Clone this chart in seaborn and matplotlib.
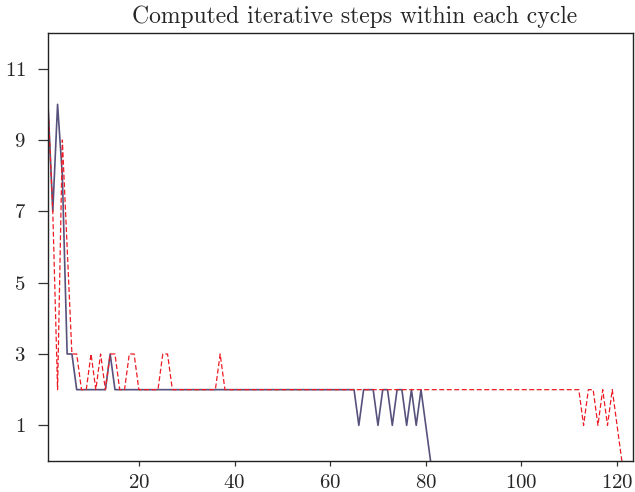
import matplotlib
matplotlib.use("Agg")
import matplotlib.pyplot as plt
import seaborn as sns
import pandas as pd

# Computed iterative steps per cycle (two runs)
steps_solid = [10, 7, 10, 8, 3, 3, 2, 2, 2, 2, 2, 2, 2, 3, 2] + [2] * 49 + \
    [2, 1, 2, 2, 2, 1, 2, 2, 1, 2, 2, 1, 2, 1, 2, 1, 0]
steps_dashed = [10, 7, 2, 9, 6, 3, 3, 2, 2, 3, 2, 3, 2, 3, 3, 2, 2, 3, 3, 2,
                2, 2, 2, 2, 3, 3, 2, 2, 2, 2, 2, 2, 2, 2, 2, 2, 3, 2] + [2] * 73 + \
    [2, 1, 2, 2, 1, 2, 1, 2, 1, 0]
cycles_solid = list(range(1, len(steps_solid) + 1))
cycles_dashed = list(range(1, len(steps_dashed) + 1))

title = "Computed iterative steps within each cycle"
xticks = [20, 40, 60, 80, 100, 120]
yticks = [1, 3, 5, 7, 9, 11]

sns.set_theme(style="ticks")
plt.rcParams["font.family"] = ["cmr10", "DejaVu Serif"]
plt.rcParams["mathtext.fontset"] = "cm"
plt.rcParams["axes.formatter.use_mathtext"] = True

fig = plt.figure(figsize=(6.35, 4.92), dpi=100)
ax = fig.add_axes([0.0756, 0.063, 0.921, 0.870])

df_s = pd.DataFrame({"cycle": cycles_solid, "steps": steps_solid})
df_d = pd.DataFrame({"cycle": cycles_dashed, "steps": steps_dashed})

sns.lineplot(data=df_s, x="cycle", y="steps", ax=ax, color="#56527c",
             linewidth=1.2, estimator=None)
sns.lineplot(data=df_d, x="cycle", y="steps", ax=ax, color="#ee1c25",
             linewidth=0.9, linestyle=(0, (4, 2)), estimator=None)

ax.set_xlim(1, 123.3)
ax.set_ylim(0, 12)
ax.set_xticks(xticks)
ax.set_yticks(yticks)
ax.set_xlabel("")
ax.set_ylabel("")
ax.set_title(title, fontsize=17, pad=7, x=0.525)
ax.tick_params(labelsize=15, width=0.9, color="#333333")
ax.tick_params(axis="y", length=7, pad=9)
ax.tick_params(axis="x", length=3.5, pad=6)
for s in ax.spines.values():
    s.set_visible(True)
    s.set_linewidth(1.0)
    s.set_color("#222222")

fig.savefig("out.png", dpi=100)
